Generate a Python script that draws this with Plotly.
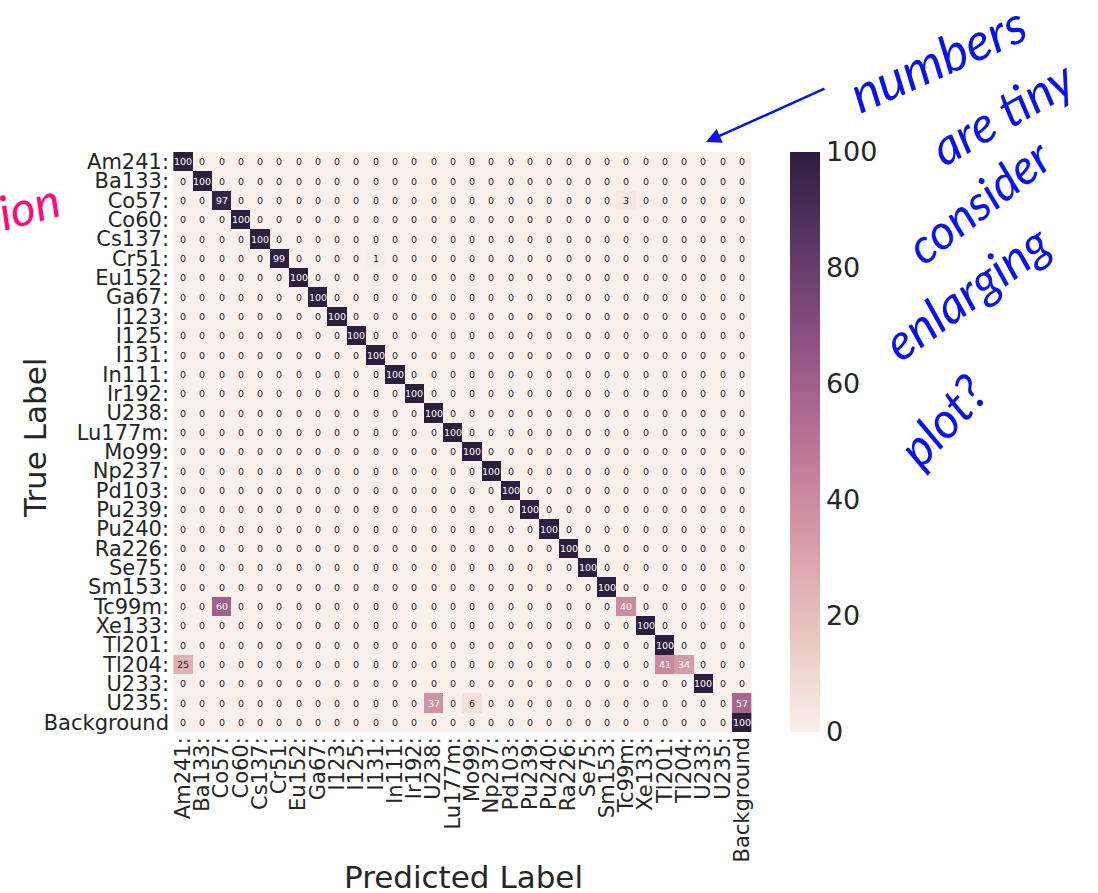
import numpy as np
import plotly.graph_objects as go

# ---------------- data ----------------
labels = ["Am241", "Ba133", "Co57", "Co60", "Cs137", "Cr51", "Eu152", "Ga67", "I123", "I125",
          "I131", "In111", "Ir192", "U238", "Lu177m", "Mo99", "Np237", "Pd103", "Pu239", "Pu240",
          "Ra226", "Se75", "Sm153", "Tc99m", "Xe133", "Tl201", "Tl204", "U233", "U235", "Background"]
tick_labels = [l + ":" for l in labels[:-1]] + ["Background"]

# diagonal (correct) percentages, one per true label
diag_values = [100, 100, 97, 100, 100, 99, 100, 100, 100, 100,
               100, 100, 100, 100, 100, 100, 100, 100, 100, 100,
               100, 100, 100, 40, 100, 100, 34, 100, 0, 100]
# off-diagonal confusions: (true label, predicted label, percent)
off_diag = [("Co57", "Tc99m", 3),
            ("Cr51", "I131", 1),
            ("Tc99m", "Co57", 60),
            ("Tl204", "Am241", 25),
            ("Tl204", "Tl201", 41),
            ("U235", "U238", 37),
            ("U235", "Mo99", 6),
            ("U235", "Background", 57)]

colorbar_ticks = [0, 20, 40, 60, 80, 100]

# ---------------- build matrix ----------------
n = len(labels)
z = np.zeros((n, n), dtype=int)
for i, v in enumerate(diag_values):
    z[i, i] = v
for t, p, v in off_diag:
    z[labels.index(t), labels.index(p)] = v


# seaborn-like cubehelix colormap (light=0.95, dark=0.15)
def cubehelix(x, start=0.0, rot=0.4, gamma=1.0, hue=0.8):
    xg = x ** gamma
    a = hue * xg * (1 - xg) / 2
    phi = 2 * np.pi * (start / 3 + rot * x)
    r = xg + a * (-0.14861 * np.cos(phi) + 1.78277 * np.sin(phi))
    g = xg + a * (-0.29227 * np.cos(phi) - 0.90649 * np.sin(phi))
    b = xg + a * (1.97294 * np.cos(phi))
    return np.clip([r, g, b], 0, 1)


def cmap(t):
    return cubehelix(0.95 + (0.15 - 0.95) * t)


stops = np.linspace(0, 1, 21)
colorscale = []
for s in stops:
    r, g, b = cmap(s)
    colorscale.append([float(s), f"rgb({int(round(r*255))},{int(round(g*255))},{int(round(b*255))})"])


def lum(rgb):
    lin = [c / 12.92 if c <= 0.03928 else ((c + 0.055) / 1.055) ** 2.4 for c in rgb]
    return 0.2126 * lin[0] + 0.7152 * lin[1] + 0.0722 * lin[2]


FONT = "DejaVu Sans"
DARK = "#262626"

fig = go.Figure()
fig.add_trace(go.Heatmap(
    z=z, x=labels, y=labels,
    zmin=0, zmax=100,
    colorscale=colorscale,
    xgap=0, ygap=0,
    hoverinfo="skip",
    colorbar=dict(
        thickness=30, len=1.0, lenmode="fraction",
        x=(790 - 172) / 581, xanchor="left", xpad=0, ypad=0,
        y=0.5, yanchor="middle",
        outlinewidth=0, ticks="", ticklen=0,
        tickvals=colorbar_ticks,
        tickfont=dict(family=FONT, size=27, color=DARK),
    ),
))

annotations = []
for i in range(n):
    for j in range(n):
        v = int(z[i, j])
        col = "white" if lum(cmap(v / 100)) <= 0.408 else DARK
        annotations.append(dict(
            x=labels[j], y=labels[i], xref="x", yref="y",
            text=str(v), showarrow=False,
            font=dict(family=FONT, size=9.5, color=col),
        ))

# axis titles
annotations.append(dict(x=(463 - 172) / 581, y=(732 - 877) / 580, xref="paper", yref="paper",
                        text="Predicted Label", showarrow=False,
                        font=dict(family=FONT, size=31, color=DARK),
                        xanchor="center", yanchor="middle"))
annotations.append(dict(x=(35 - 172) / 581, y=(732 - 438) / 580, xref="paper", yref="paper",
                        text="True Label", showarrow=False, textangle=-90,
                        font=dict(family=FONT, size=31, color=DARK),
                        xanchor="center", yanchor="middle"))

# hand-written review notes
BLUE = "#0a14e6"
PINK = "#ff0a78"
notes = [("numbers", 937, 58, -24, 52),
         ("are tiny", 1002, 112, -30, 50),
         ("consider", 978, 200, -38, 48),
         ("enlarging", 966, 292, -36, 50),
         ("plot?", 942, 420, -47, 50)]
for txt, px, py, ang, fs in notes:
    annotations.append(dict(x=(px - 172) / 581, y=(732 - py) / 580, xref="paper", yref="paper",
                            text=txt, showarrow=False, textangle=ang,
                            font=dict(family="Lato", size=fs, color=BLUE, style="italic"),
                            xanchor="center", yanchor="middle"))
annotations.append(dict(x=(706 - 172) / 581, y=(732 - 142) / 580, xref="paper", yref="paper",
                        ax=120, ay=-54, axref="pixel", ayref="pixel",
                        text="", showarrow=True, arrowhead=2, arrowsize=1.2, arrowwidth=2.5,
                        arrowcolor=BLUE))
annotations.append(dict(x=(28 - 172) / 581, y=(732 - 205) / 580, xref="paper", yref="paper",
                        text="ion", showarrow=False, textangle=-15,
                        font=dict(family="Lato", size=48, color=PINK, style="italic"),
                        xanchor="center", yanchor="middle"))

fig.update_layout(
    width=1098, height=893,
    margin=dict(l=172, r=345, t=152, b=161, pad=0),
    paper_bgcolor="white", plot_bgcolor="white",
    annotations=annotations,
    xaxis=dict(type="category", tickvals=labels, ticktext=tick_labels, tickangle=-90,
               tickfont=dict(family=FONT, size=21, color=DARK),
               showgrid=False, zeroline=False, ticks="", showline=False),
    yaxis=dict(type="category", tickvals=labels, ticktext=tick_labels, autorange="reversed",
               tickfont=dict(family=FONT, size=21, color=DARK), ticklabelstandoff=2,
               showgrid=False, zeroline=False, ticks="", showline=False),
)

fig.write_html("out.html")
